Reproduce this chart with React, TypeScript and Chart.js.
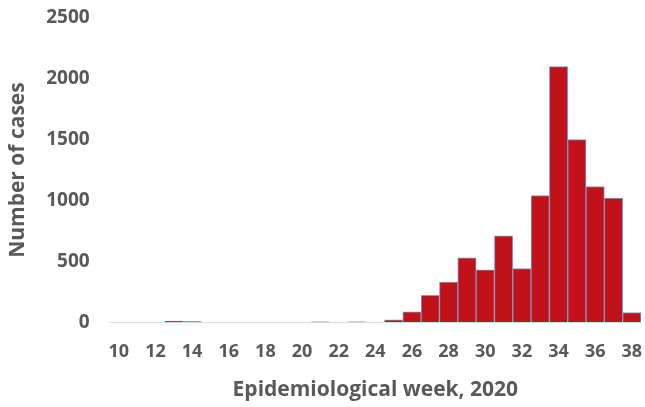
import React, { useEffect, useRef } from "react";
import { Chart, registerables } from "chart.js";

Chart.register(...registerables);

const weeks: string[] = [
  "10", "11", "12", "13", "14", "15", "16", "17", "18", "19",
  "20", "21", "22", "23", "24", "25", "26", "27", "28", "29",
  "30", "31", "32", "33", "34", "35", "36", "37", "38",
];
const cases: number[] = [
  0, 0, 0, 10, 5, 0, 0, 0, 0, 0,
  0, 3, 0, 3, 0, 20, 85, 220, 330, 530,
  430, 710, 440, 1040, 2100, 1500, 1115, 1020, 80,
];
const yTicks: number[] = [0, 500, 1000, 1500, 2000, 2500];

const TEXT = "#595959";
const FONT = "'Open Sans', 'DejaVu Sans', sans-serif";

export default function App() {
  const ref = useRef<HTMLCanvasElement | null>(null);

  useEffect(() => {
    document.body.style.margin = "0";
    const ctx = ref.current;
    if (!ctx) return;
    const chart = new Chart(ctx, {
      type: "bar",
      data: {
        labels: weeks,
        datasets: [
          {
            data: cases,
            backgroundColor: "#C1121A",
            borderColor: "#7A9CC6",
            borderWidth: 1,
            barPercentage: 1,
            categoryPercentage: 1,
          },
        ],
      },
      options: {
        animation: false,
        responsive: false,
        maintainAspectRatio: false,
        layout: { padding: { top: 18, right: 4, left: 5, bottom: 4 } },
        plugins: { legend: { display: false }, tooltip: { enabled: false } },
        scales: {
          x: {
            grid: { display: false, drawTicks: true, tickLength: 19 },
            border: { display: true, color: "#D5E0EC", width: 1 },
            ticks: {
              autoSkip: false,
              maxRotation: 0,
              padding: 0,
              color: TEXT,
              font: { family: FONT, size: 18, weight: "bold" },
              callback: (_v: any, i: number) => (i % 2 === 0 ? weeks[i] : ""),
            },
            title: {
              display: true,
              text: "Epidemiological week, 2020",
              color: TEXT,
              font: { family: FONT, size: 21, weight: "bold" },
              padding: { top: 15, bottom: 0 },
            },
          },
          y: {
            min: 0,
            max: 2500,
            grid: { display: false, drawTicks: true, tickLength: 20 },
            border: { display: false },
            afterBuildTicks: (axis: any) => {
              axis.ticks = yTicks.map((v) => ({ value: v }));
            },
            ticks: {
              padding: 0,
              color: TEXT,
              font: { family: FONT, size: 19, weight: "bold" },
              callback: (v: any) => String(v),
            },
            title: {
              display: true,
              text: "Number of cases",
              color: TEXT,
              font: { family: FONT, size: 21, weight: "bold" },
              padding: { top: 0, bottom: 16 },
            },
          },
        },
      },
    });
    return () => chart.destroy();
  }, []);

  return (
    <div style={{ position: "fixed", left: 0, top: 0, width: 645, height: 407 }}>
      <canvas ref={ref} width={645} height={407} style={{ width: 645, height: 407 }} />
    </div>
  );
}
